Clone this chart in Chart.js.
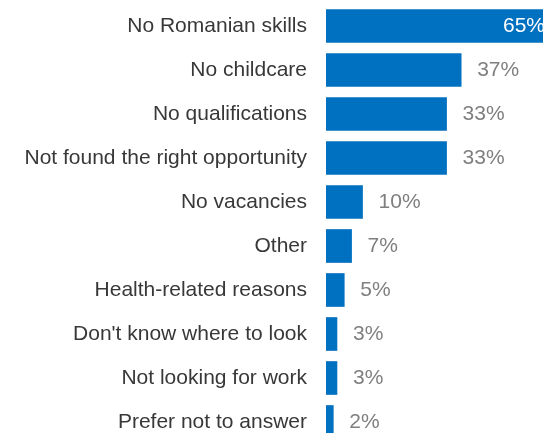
<!DOCTYPE html>
<html>
<head>
<meta charset="utf-8">
<script src="https://cdn.jsdelivr.net/npm/chart.js@4.4.0/dist/chart.umd.min.js"></script>
<style>
    html, body { margin: 0; padding: 0; background: #fff; overflow: hidden; }
    #wrap { position: relative; width: 543px; height: 448px; }
</style>
</head>
<body>
<div id="wrap"><canvas id="barChart"></canvas></div>
<script>
// ======================= Data =======================
const categories = [
    "No Romanian skills",
    "No childcare",
    "No qualifications",
    "Not found the right opportunity",
    "No vacancies",
    "Other",
    "Health-related reasons",
    "Don't know where to look",
    "Not looking for work",
    "Prefer not to answer"
];
const shares = [65, 37, 33, 33, 10, 7, 5, 3, 3, 2];

const barColor = "#0070c0";
const fontFamily = "'Liberation Sans', Arial, sans-serif";

// value labels: white inside the long bar, grey beside the others
const valueLabels = {
    id: "valueLabels",
    afterDatasetsDraw(chart) {
        const ctx = chart.ctx;
        const meta = chart.getDatasetMeta(0);
        const area = chart.chartArea;
        ctx.save();
        ctx.font = "21px " + fontFamily;
        ctx.textBaseline = "middle";
        meta.data.forEach((bar, i) => {
            const text = shares[i] + "%";
            if (bar.x > area.right) {
                ctx.fillStyle = "#ffffff";
                ctx.textAlign = "right";
                ctx.fillText(text, area.right + 2, bar.y);
            } else {
                ctx.fillStyle = "#7f7f7f";
                ctx.textAlign = "left";
                ctx.fillText(text, bar.x + 16, bar.y);
            }
        });
        ctx.restore();
    }
};

new Chart(document.getElementById("barChart"), {
    type: "bar",
    data: {
        labels: categories,
        datasets: [{
            data: shares,
            backgroundColor: barColor,
            barThickness: 33
        }]
    },
    options: {
        indexAxis: "y",
        responsive: true,
        maintainAspectRatio: false,
        animation: false,
        layout: { padding: { top: 4, right: 0, bottom: 4, left: 0 } },
        plugins: {
            legend: { display: false },
            tooltip: { enabled: false }
        },
        scales: {
            x: {
                display: false,
                min: 0,
                max: 59.4
            },
            y: {
                grid: { display: false, drawTicks: false },
                border: { display: false },
                afterFit: (axis) => {
                    axis.width = 326;
                    // labels sit mid-category, no edge room needed
                    axis.paddingTop = 0;
                    axis.paddingBottom = 0;
                },
                ticks: {
                    color: "#383838",
                    padding: 19,
                    font: { family: fontFamily, size: 21 }
                }
            }
        }
    },
    plugins: [valueLabels]
});
</script>
</body>
</html>
